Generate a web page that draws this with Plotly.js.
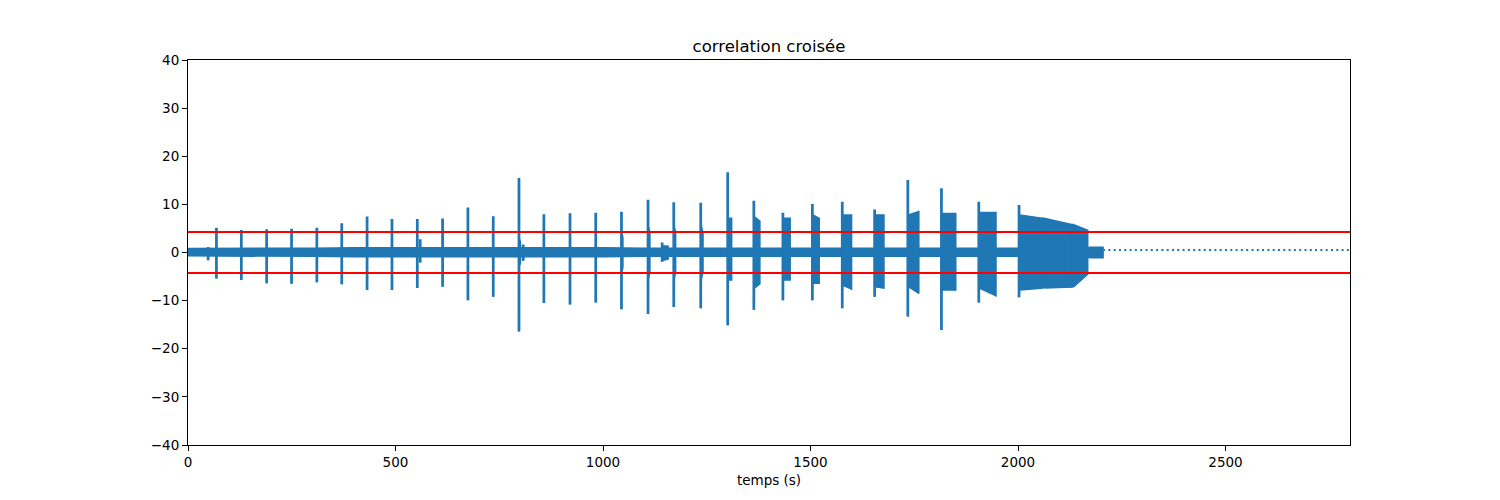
<!DOCTYPE html>
<html>
<head>
<meta charset="utf-8">
<script src="https://cdn.plot.ly/plotly-3.0.1.min.js"></script>
<style>
html,body{margin:0;padding:0;background:#fff;}
#chart{width:1500px;height:500px;}
</style>
</head>
<body>
<div id="chart"></div>
<script>
// ---- data ----
// baseline noise band (envelope of the signal between events)
const baseT  = [0, 300, 400, 1000, 1100, 2168, 2172, 2205];
const baseHi = [0.85, 0.9, 1.0, 1.0, 0.9, 0.9, 1.1, 1.1];
const baseLo = [-0.7, -0.8, -0.9, -0.9, -0.8, -0.8, -1.1, -1.1];

// events (bursts) : start / end time (s), peak envelope at onset, plateau envelope, envelope at end
const eventStart = [67,127,188,248,309,369,430,490,551,558,612,673,734,796,856,919,981,1043,1107,1169,1234,1299,1362,1432,1503,1575,1653,1733,1814,1904,2001,2060,2130,47,806,1141];
const eventEnd   = [70,130,191,251,312,372,433,493,554,561,615,676,737,801,859,922,984,1048,1113,1175,1241,1310,1378,1451,1521,1599,1677,1761,1850,1947,2060,2130,2168,50,810,1157];
const peakHi     = [5.0,4.5,4.7,4.8,5.0,5.9,7.3,6.8,6.8,2.6,6.9,9.2,7.4,15.3,7.8,8.0,8.1,8.3,10.8,10.3,10.2,16.5,10.6,8.1,9.9,10.4,8.8,14.9,13.2,10.4,9.7,7.1,5.8,1.0,1.5,1.9];
const peakLo     = [-5.4,-5.7,-6.4,-6.5,-6.2,-6.6,-7.8,-7.8,-7.4,-2.1,-7.1,-9.9,-9.2,-16.4,-10.5,-10.8,-10.4,-11.8,-12.8,-11.3,-11.6,-15.1,-11.9,-9.9,-9.9,-11.6,-9.2,-13.3,-16.1,-10.4,-9.3,-7.4,-7.2,-1.6,-1.7,-1.9];
const platHi     = [2.5,2.5,2.5,2.5,2.5,2.5,2.5,2.5,2.5,2.0,2.5,3,3,3,3,3,3,4,5.5,5.5,5.5,7.1,7.4,7.1,7.8,7.8,7.8,7.8,8.1,8.3,7.8,7.1,5.8,0.9,1.3,1.4];
const platLo     = [-2.5,-2.5,-2.5,-2.5,-2.5,-2.5,-2.5,-2.5,-2.5,-2.0,-2.5,-3,-3,-3,-3,-3,-3,-4,-5.5,-5.5,-5.5,-5.7,-7.4,-5.7,-6.4,-6.8,-7.1,-7.1,-7.8,-7.4,-7.8,-7.4,-7.2,-1.0,-1.5,-1.6];
const endHi      = [1.5,1.5,1.5,1.5,1.5,1.5,1.5,1.5,1.5,1.2,1.5,2,2,2,2,2,2,3,4,4,4,7.1,6.5,7.1,7.1,7.8,7.8,8.5,8.1,8.3,7.1,5.8,4.6,0.9,1.0,1.3];
const endLo      = [-1.5,-1.5,-1.5,-1.5,-1.5,-1.5,-1.5,-1.5,-1.5,-1.2,-1.5,-2,-2,-2,-2,-2,-2,-3,-4,-4,-4,-5.7,-6.5,-5.7,-6.4,-7.6,-7.4,-8.5,-7.8,-9.0,-7.4,-7.2,-4.5,-0.8,-1.0,-1.4];

// dotted continuation after the recording
const tailT = [2205, 2800];
const tailY = [0.5, 0.5];

// detection thresholds
const thresholds = [4.25, -4.25];
const xRange = [0, 2800];

// ---- build traces ----
const BLUE = '#1f77b4';
const PEAK_W = 3;
const sx = [], sy = [];
for (let i = 0; i < baseT.length; i++) { sx.push(baseT[i]); sy.push(baseHi[i]); }
for (let i = baseT.length - 1; i >= 0; i--) { sx.push(baseT[i]); sy.push(baseLo[i]); }
sx.push(null); sy.push(null);
for (let k = 0; k < eventStart.length; k++) {
  const a = eventStart[k], b = eventEnd[k], c = Math.min(a + PEAK_W, b);
  const pts = [[a, peakLo[k]], [a, peakHi[k]], [c, peakHi[k]], [c, platHi[k]],
               [b, endHi[k]], [b, endLo[k]], [c, platLo[k]], [c, peakLo[k]]];
  pts.forEach(p => { sx.push(p[0]); sy.push(p[1]); });
  sx.push(null); sy.push(null);
}

const traces = [
  {x: sx, y: sy, type: 'scatter', mode: 'lines', fill: 'toself', fillcolor: BLUE,
   line: {color: BLUE, width: 1.5, simplify: false}, connectgaps: false, hoverinfo: 'skip'},
  {x: tailT, y: tailY, type: 'scatter', mode: 'lines',
   line: {color: BLUE, width: 2, dash: '2px,3.3px'}},
];
thresholds.forEach(v => traces.push({x: xRange, y: [v, v], type: 'scatter', mode: 'lines',
  line: {color: 'red', width: 2}}));

const axisCommon = {
  showline: true, mirror: true, linecolor: 'black', linewidth: 1,
  ticks: 'outside', ticklen: 5, tickwidth: 1, tickcolor: 'black',
  showgrid: false, zeroline: false, tickfont: {size: 13.5, color: 'black'}
};

const layout = {
  width: 1500, height: 500,
  margin: {l: 188, r: 150, t: 60, b: 55},
  paper_bgcolor: 'white', plot_bgcolor: 'white',
  font: {family: 'DejaVu Sans', color: 'black', size: 13.5},
  showlegend: false,
  title: {text: 'correlation croisée', font: {size: 16.5, color: 'black'},
          x: 0.5, xref: 'paper', y: 1 - 46/500, yref: 'container', yanchor: 'middle'},
  xaxis: Object.assign({}, axisCommon, {range: xRange, tickvals: [0,500,1000,1500,2000,2500],
          title: {text: 'temps (s)', font: {size: 13.5}, standoff: 6}}),
  yaxis: Object.assign({}, axisCommon, {range: [-40, 40], tickvals: [-40,-30,-20,-10,0,10,20,30,40]})
};

Plotly.newPlot('chart', traces, layout, {staticPlot: true, displayModeBar: false});
</script>
</body>
</html>
